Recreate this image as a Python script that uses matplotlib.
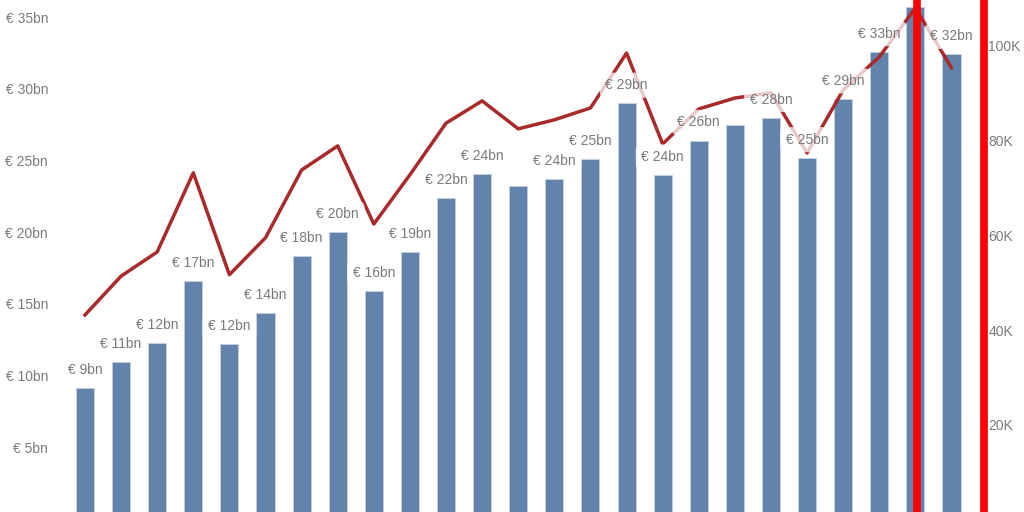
import matplotlib
matplotlib.use("Agg")
import matplotlib.pyplot as plt
from matplotlib.ticker import FuncFormatter, FixedLocator

plt.rcParams['font.family'] = ['Liberation Sans', 'DejaVu Sans']

# bar values (EUR bn) and line values (thousands), one per period
bar_values = [9.14, 10.95, 12.27, 16.6, 12.2, 14.37, 18.34, 20.0, 15.9, 18.6,
              22.4, 24.06, 23.2, 23.7, 25.1, 29.0, 24.0, 26.4, 27.5, 28.0,
              25.2, 29.3, 32.6, 35.7, 32.4]
line_values = [43.2, 51.4, 56.5, 73.2, 51.7, 59.5, 73.8, 78.9, 62.4, 72.8,
               83.7, 88.4, 82.5, 84.4, 86.9, 98.5, 79.3, 86.7, 89.0, 90.1,
               77.4, 90.7, 97.7, 108.0, 95.4]
bar_labels = ["€ 9bn", "€ 11bn", "€ 12bn", "€ 17bn", "€ 12bn", "€ 14bn", "€ 18bn",
              "€ 20bn", "€ 16bn", "€ 19bn", "€ 22bn", "€ 24bn", "", "€ 24bn",
              "€ 25bn", "€ 29bn", "€ 24bn", "€ 26bn", "", "€ 28bn", "€ 25bn",
              "€ 29bn", "€ 33bn", "", "€ 32bn"]
left_ticks = [5, 10, 15, 20, 25, 30, 35]
right_ticks = [20, 40, 60, 80, 100]
marker_pos = 23.05

x = list(range(len(bar_values)))
grey = '#7a7a7a'

fig = plt.figure(figsize=(10.24, 5.12), dpi=100)
ax = fig.add_axes([55 / 1024, 0, (984 - 55) / 1024, 1])
ax2 = ax.twinx()

ax.bar(x, bar_values, width=0.5, color='#6283ac', edgecolor='#c3d0e2', linewidth=0.6, zorder=2)
ax2.plot(x, line_values, color='#a82a2a', linewidth=2.5, zorder=3)

for xi, v, lab in zip(x, bar_values, bar_labels):
    if lab:
        ax2.annotate(lab, (xi, v), xycoords=ax.transData, xytext=(0, 13),
                     textcoords='offset points', ha='center', va='center',
                     fontsize=10, color=grey, zorder=5,
                     bbox=dict(boxstyle='round,pad=0.4', fc='white', ec='none', alpha=0.75))

ax2.axvline(marker_pos, color='red', linewidth=5.5, zorder=6)

ax.set_xlim(-0.83, 24.9)
ax.set_ylim(0.49, 36.2)
ax2.set_ylim(1.6, 109.7)

ax.yaxis.set_major_locator(FixedLocator(left_ticks))
ax.yaxis.set_major_formatter(FuncFormatter(lambda v, p: '€ {:d}bn'.format(int(v))))
ax2.yaxis.set_major_locator(FixedLocator(right_ticks))
ax2.yaxis.set_major_formatter(FuncFormatter(lambda v, p: '{:d}K'.format(int(v))))

ax.tick_params(axis='y', length=0, pad=5, labelsize=10, labelcolor=grey)
ax2.tick_params(axis='y', length=0, pad=3, labelsize=10, labelcolor=grey)
ax.set_xticks([])

for a in (ax, ax2):
    for s in ('top', 'bottom', 'left'):
        a.spines[s].set_visible(False)
ax.spines['right'].set_visible(False)
ax2.spines['right'].set_color('red')
ax2.spines['right'].set_linewidth(5.5)

fig.savefig('out.png', dpi=100)
